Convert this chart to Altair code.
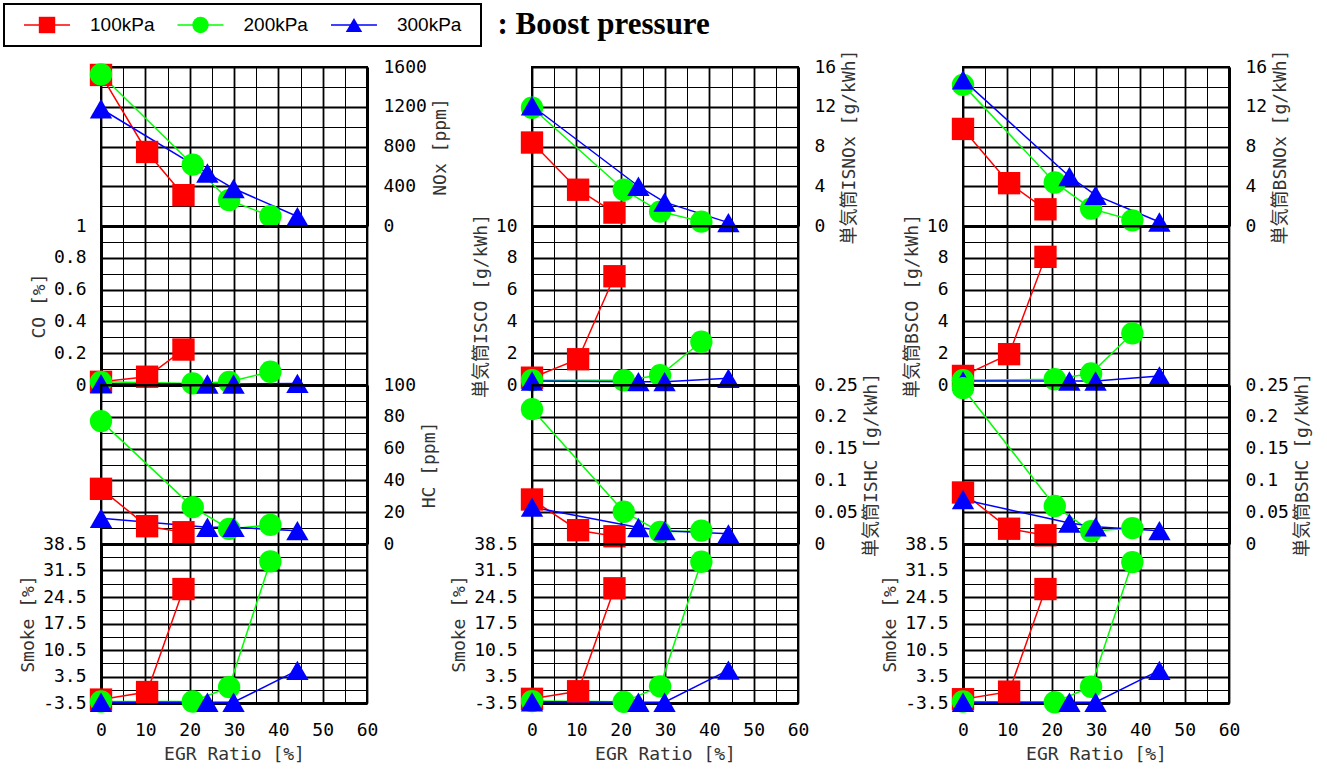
import altair as alt
import pandas as pd

# ---------------- data ----------------
SERIES = ["100kPa", "200kPa", "300kPa"]
COLORS = ["#ff0000", "#00ff00", "#0000ff"]
SHAPES = ["square", "circle", "triangle-up"]

EGR_RATIO = {
    "100kPa": [0.0, 10.4, 18.6],
    "200kPa": [0.0, 20.7, 28.9, 38.2],
    "300kPa": [0.0, 24.0, 29.9, 44.3],
}

# column 1
NOX_PPM = {"100kPa": [1520, 745, 310], "200kPa": [1525, 617, 260, 100], "300kPa": [1180, 533, 377, 95]}
CO_PCT = {"100kPa": [0.02, 0.052, 0.223], "200kPa": [0.02, 0.01, 0.02, 0.083], "300kPa": [0.008, 0.006, 0.006, 0.01]}
HC_PPM = {"100kPa": [34.7, 11.2, 7.4], "200kPa": [77.3, 23.2, 9.5, 12.0], "300kPa": [16.2, 10.5, 10.5, 8.4]}
SMOKE_1 = {"100kPa": [-2.6, -0.6, 26.6], "200kPa": [-3.1, -3.1, 0.7, 33.9], "300kPa": [-3.3, -3.3, -3.3, 5.1]}

# column 2
ISNOX = {"100kPa": [8.4, 3.65, 1.35], "200kPa": [11.9, 3.65, 1.45, 0.44], "300kPa": [12.1, 4.0, 2.4, 0.34]}
ISCO = {"100kPa": [0.46, 1.62, 6.84], "200kPa": [0.3, 0.3, 0.61, 2.72], "300kPa": [0.25, 0.21, 0.21, 0.42]}
ISHC = {"100kPa": [0.070, 0.0217, 0.0122], "200kPa": [0.212, 0.0507, 0.019, 0.021], "300kPa": [0.058, 0.026, 0.021, 0.016]}
SMOKE_2 = {"100kPa": [-2.4, -0.4, 26.8], "200kPa": [-3.0, -3.2, 0.9, 33.8], "300kPa": [-3.2, -3.3, -3.3, 5.2]}

# column 3
BSNOX = {"100kPa": [9.77, 4.31, 1.68], "200kPa": [14.2, 4.38, 1.75, 0.57], "300kPa": [14.7, 4.98, 3.1, 0.4]}
BSCO = {"100kPa": [0.57, 1.94, 8.06], "200kPa": [0.3, 0.36, 0.72, 3.25], "300kPa": [0.25, 0.25, 0.25, 0.57]}
BSHC = {"100kPa": [0.081, 0.024, 0.0137], "200kPa": [0.245, 0.0597, 0.020, 0.025], "300kPa": [0.070, 0.033, 0.027, 0.021]}
SMOKE_3 = {"100kPa": [-2.5, -0.5, 26.6], "200kPa": [-3.1, -3.3, 0.8, 33.7], "300kPa": [-3.3, -3.3, -3.3, 5.1]}

# ticks / gridlines
X_TICKS = [0, 5, 10, 15, 20, 25, 30, 35, 40, 45, 50, 55, 60]
NOX_PPM_TICKS = [0, 200, 400, 600, 800, 1000, 1200, 1400, 1600]
CO_PCT_TICKS = [0, 0.1, 0.2, 0.3, 0.4, 0.5, 0.6, 0.7, 0.8, 0.9, 1.0]
HC_PPM_TICKS = [0, 10, 20, 30, 40, 50, 60, 70, 80, 90, 100]
SMOKE_TICKS = [-3.5, 0, 3.5, 7, 10.5, 14, 17.5, 21, 24.5, 28, 31.5, 35, 38.5]
NOX_G_TICKS = [0, 2, 4, 6, 8, 10, 12, 14, 16]
CO_G_TICKS = [0, 1, 2, 3, 4, 5, 6, 7, 8, 9, 10]
HC_G_TICKS = [0, 0.025, 0.05, 0.075, 0.1, 0.125, 0.15, 0.175, 0.2, 0.225, 0.25]

MONO = "DejaVu Sans Mono"
TITLE_FONT = "DejaVu Sans Mono, Noto Sans CJK JP"
PANEL_W = 266
PANEL_H = 159

color_enc = alt.Color("series:N", scale=alt.Scale(domain=SERIES, range=COLORS), legend=None)
shape_enc = alt.Shape("series:N", scale=alt.Scale(domain=SERIES, range=SHAPES), legend=None)


def major(step, origin=0):
    return f"round((datum.value - ({origin})) / {step}) % 2 == 0"


def label_expr(test):
    return f"({test}) ? replace(format(datum.value, '~g'), '\u2212', '-') : ''"


def y_axis(ticks, step, origin, title, orient):
    test = major(step, origin)
    kw = dict(values=ticks, orient=orient, title=title, grid=True,
              gridColor="black", gridOpacity=1,
              gridWidth={"condition": {"test": test, "value": 1.8}, "value": 1},
              ticks=False, domain=True, domainColor="black", domainWidth=3,
              labelExpr=label_expr(test), labelFont=MONO, labelFontSize=18,
              labelColor="black", labelPadding=15, labelFlush=False,
              labelOverlap=False, labelBound=False,
              titleFont=TITLE_FONT, titleFontSize=18, titleFontWeight="normal",
              titleColor="#333333", titlePadding=5)
    if orient == "right":
        kw.update(titleAngle=270, titleBaseline="top", labelPadding=16)
    return alt.Axis(**kw)


def x_axis(bottom):
    test = major(5, 0)
    kw = dict(values=X_TICKS, grid=True, gridColor="black", gridOpacity=1,
              gridWidth={"condition": {"test": test, "value": 1.8}, "value": 1},
              ticks=False, domain=True, domainColor="black", domainWidth=3,
              labels=bottom)
    if bottom:
        kw.update(title="EGR Ratio [%]", labelExpr=label_expr(test), labelFont=MONO,
                  labelFontSize=18, labelColor="black", labelPadding=18,
                  labelFlush=False, labelOverlap=False, labelBound=False,
                  titleFont=TITLE_FONT, titleFontSize=18, titleFontWeight="normal",
                  titleColor="#333333", titlePadding=6)
    else:
        kw.update(title=None)
    return alt.Axis(**kw)


def make_df(vals):
    rows = []
    for s in SERIES:
        for x, y in zip(EGR_RATIO[s], vals[s]):
            rows.append({"series": s, "egr": x, "val": y})
    return pd.DataFrame(rows)


def panel(vals, ticks, step, origin, title, orient, bottom=False):
    df = make_df(vals)
    base = alt.Chart(df).encode(
        x=alt.X("egr:Q", scale=alt.Scale(domain=[0, 60], nice=False, zero=False), axis=x_axis(bottom)),
        y=alt.Y("val:Q", scale=alt.Scale(domain=[ticks[0], ticks[-1]], nice=False, zero=False),
                axis=y_axis(ticks, step, origin, title, orient)),
        color=color_enc,
    )
    lines = base.mark_line(strokeWidth=1.5)
    points = base.mark_point(filled=True, size=500, opacity=1).encode(shape=shape_enc)
    return alt.layer(lines, points).properties(width=PANEL_W, height=PANEL_H)


panels = [
    panel(NOX_PPM, NOX_PPM_TICKS, 200, 0, "NOx [ppm]", "right"),
    panel(ISNOX, NOX_G_TICKS, 2, 0, "単気筒ISNOx [g/kWh]", "right"),
    panel(BSNOX, NOX_G_TICKS, 2, 0, "単気筒BSNOx [g/kWh]", "right"),
    panel(CO_PCT, CO_PCT_TICKS, 0.1, 0, "CO [%]", "left"),
    panel(ISCO, CO_G_TICKS, 1, 0, "単気筒ISCO [g/kWh]", "left"),
    panel(BSCO, CO_G_TICKS, 1, 0, "単気筒BSCO [g/kWh]", "left"),
    panel(HC_PPM, HC_PPM_TICKS, 10, 0, "HC [ppm]", "right"),
    panel(ISHC, HC_G_TICKS, 0.025, 0, "単気筒ISHC [g/kWh]", "right"),
    panel(BSHC, HC_G_TICKS, 0.025, 0, "単気筒BSHC [g/kWh]", "right"),
    panel(SMOKE_1, SMOKE_TICKS, 3.5, -3.5, "Smoke [%]", "left", bottom=True),
    panel(SMOKE_2, SMOKE_TICKS, 3.5, -3.5, "Smoke [%]", "left", bottom=True),
    panel(SMOKE_3, SMOKE_TICKS, 3.5, -3.5, "Smoke [%]", "left", bottom=True),
]

grid = alt.concat(*panels, columns=3, spacing={"row": 0, "column": 165}, bounds="flush")

# ---------------- legend ----------------
legend_df = pd.DataFrame({"series": SERIES})
lx = alt.X("series:N", scale=alt.Scale(type="point", domain=SERIES, padding=0.554, align=0.253), axis=None)
leg_line = alt.Chart(legend_df).mark_point(shape="M-1,0L1,0", size=46 * 46, filled=False,
                                           strokeWidth=1.5, opacity=1).encode(x=lx, color=color_enc)
leg_mark = alt.Chart(legend_df).mark_point(filled=True, size=270, opacity=1).encode(
    x=lx, color=color_enc, shape=shape_enc)
leg_text = alt.Chart(legend_df).mark_text(align="left", baseline="middle", dx=43, fontSize=19,
                                          font="Liberation Sans", color="black").encode(
    x=lx, text="series:N")
legend = alt.layer(leg_line, leg_mark, leg_text).properties(
    width=477, height=42,
    title=alt.TitleParams(": Boost pressure", orient="right", angle=0, align="left",
                          baseline="middle", anchor="middle", offset=-196,
                          font="Liberation Serif", fontSize=31, fontWeight="bold", color="black"),
    view=alt.ViewBackground(stroke="black", strokeWidth=2),
)

spacer = alt.Chart(pd.DataFrame({"v": [0]})).mark_point(opacity=0).encode(
    x=alt.value(0), y=alt.value(0)).properties(
    width=13, height=10, view=alt.ViewBackground(stroke="transparent"))

row = alt.hconcat(spacer, grid, spacing=0, bounds="full")

chart = alt.vconcat(legend, row, spacing=1, bounds="full").properties(
    padding={"left": 0, "top": 3, "right": 5, "bottom": 5},
    background="white",
).configure_view(stroke="black", strokeWidth=2)

chart.save("out.html", embed_options={"renderer": "svg", "actions": False})
